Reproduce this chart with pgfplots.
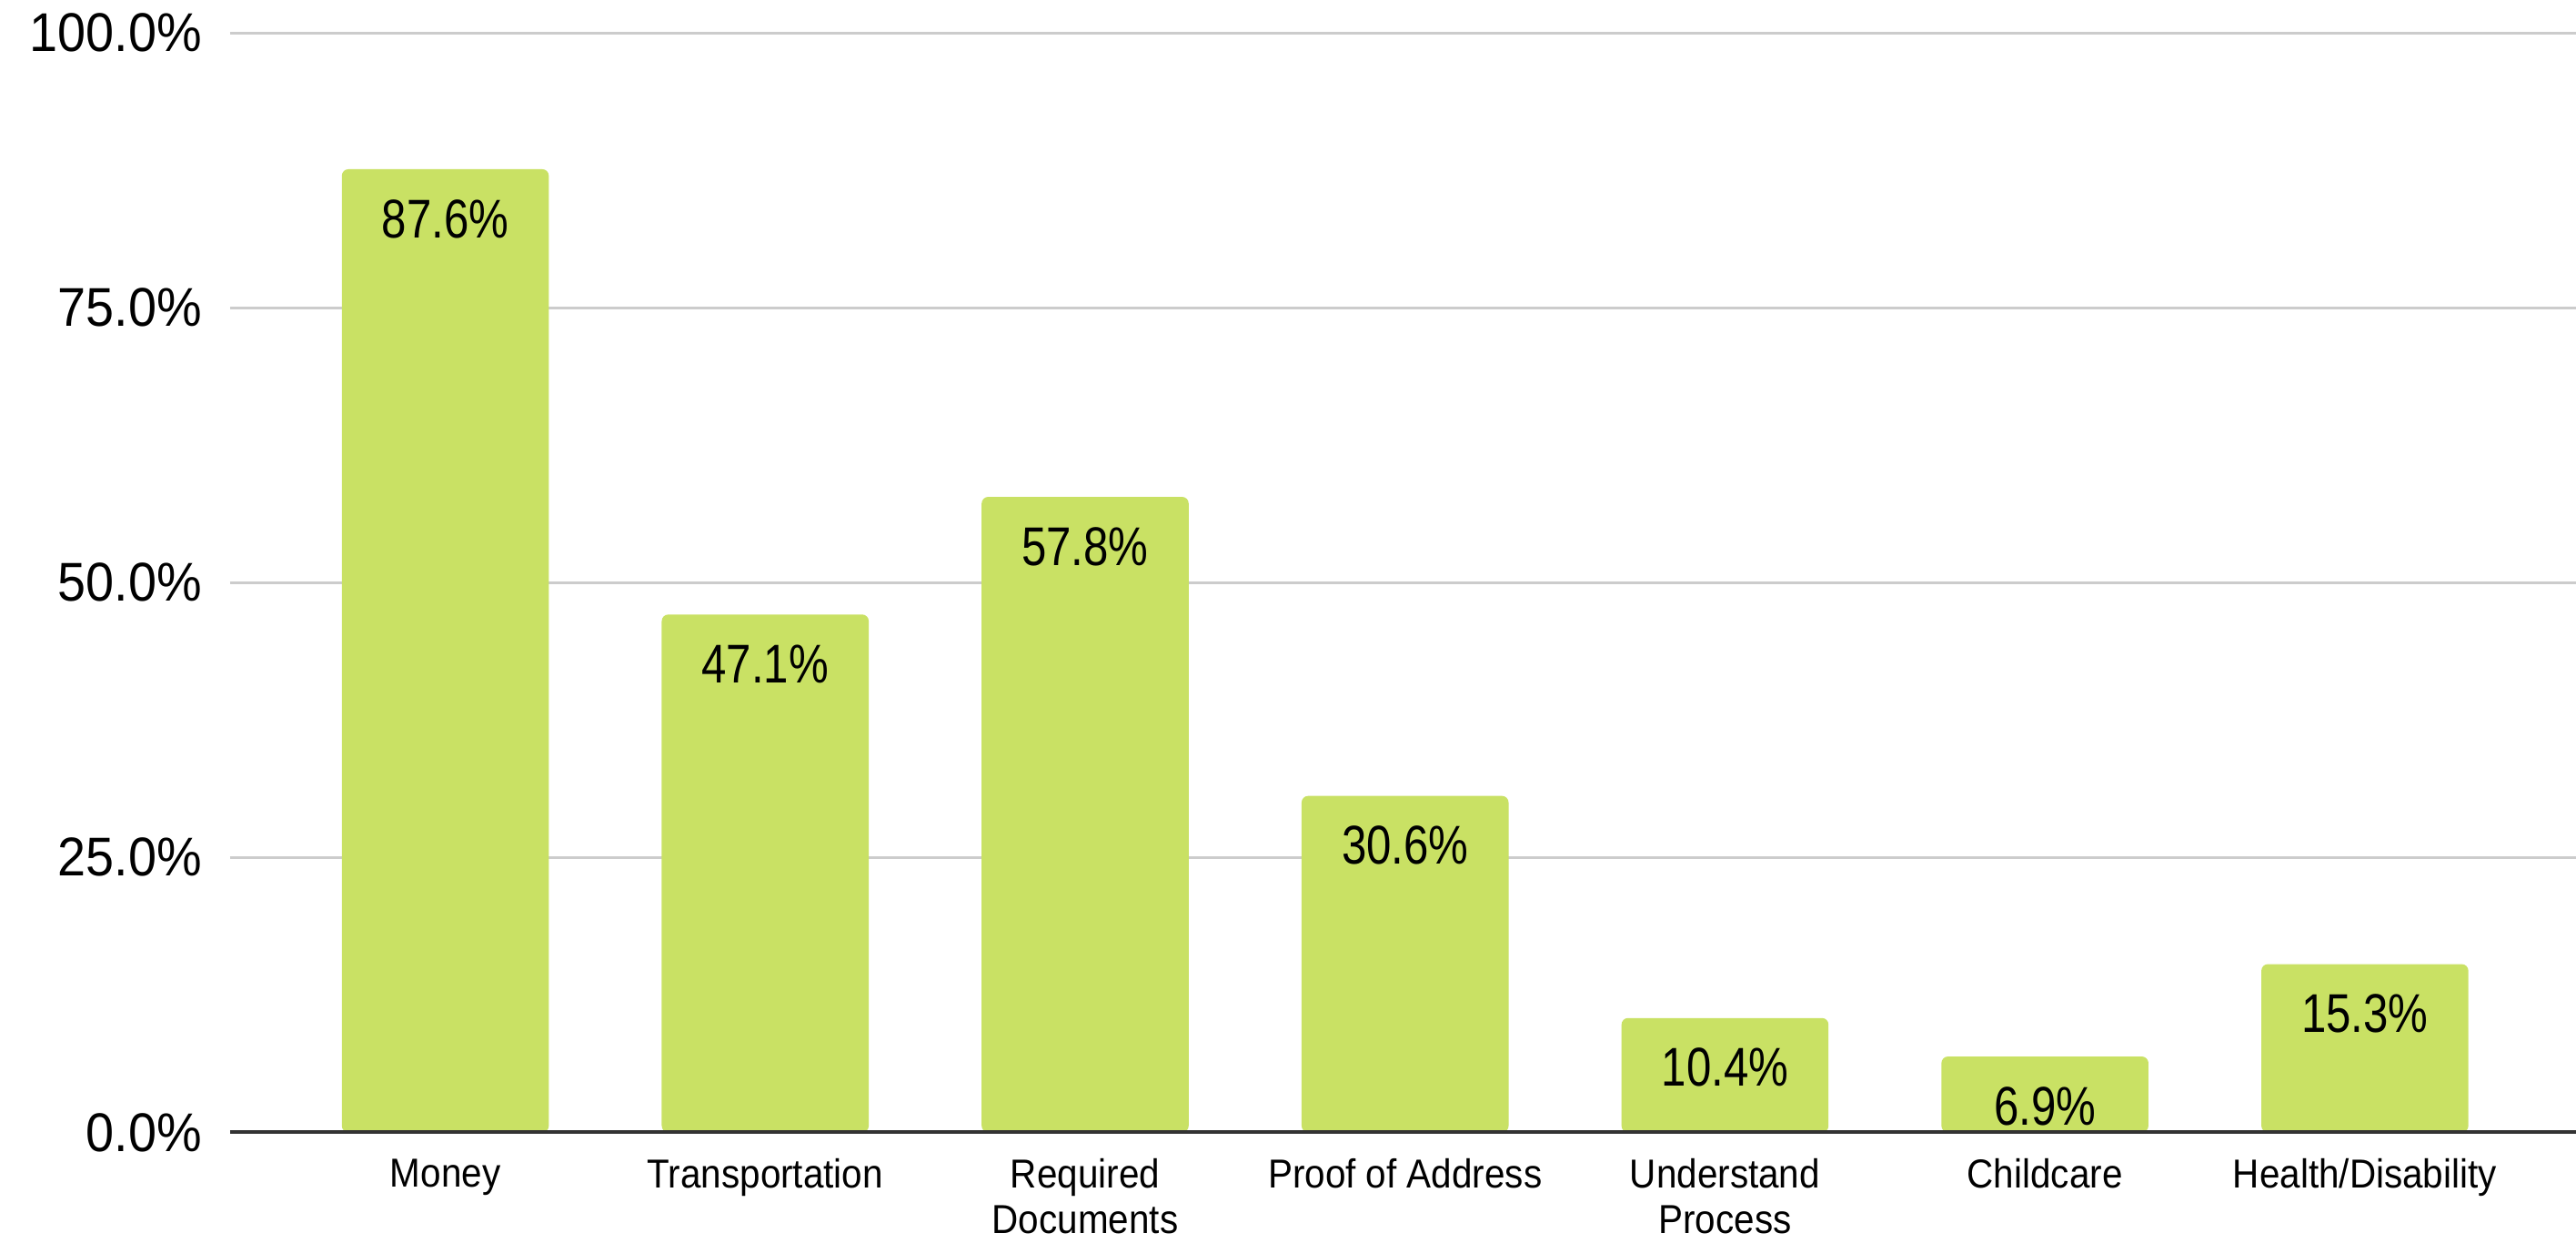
\documentclass[border=0pt]{standalone}
\usepackage{pgfplots}
\pgfplotsset{compat=1.18}
\usepackage{fontspec}
\setmainfont{Liberation Sans}
\newfontfamily\tickfont[FakeStretch=0.93]{Liberation Sans}
\newfontfamily\numfont[FakeStretch=0.82]{Liberation Sans}
\newfontfamily\catfont[FakeStretch=0.91]{Liberation Sans}
\definecolor{barc}{HTML}{C9E164}
\definecolor{gridc}{HTML}{CCCCCC}
\definecolor{basec}{HTML}{333333}
\begin{document}
\begin{tikzpicture}
\begin{axis}[
  at={(0,0)}, anchor=south west,
  scale only axis,
  width=714pt, height=334.5pt,
  xmin=-0.673, xmax=6.66,
  ymin=0, ymax=100,
  axis line style={draw=none},
  major tick length=0pt,
  ytick={0,25,50,75,100},
  yticklabel={\pgfmathprintnumber[fixed,fixed zerofill,precision=1]{\tick}\%},
  /pgf/number format/assume math mode=true,
  yticklabel style={font=\tickfont\fontsize{16.6}{19}\selectfont, xshift=-5pt},
  ymajorgrids,
  major grid style={gridc, line width=0.8pt},
  xtick={0,1,2,3,4,5,6},
  xticklabels={Money,Transportation,{Required\\Documents},{Proof of Address},{Understand\\Process},Childcare,Health/Disability},
  xticklabel style={font=\catfont\fontsize{12.3}{13.8}\selectfont, align=center, anchor=north, yshift=-4.5pt},
  ybar, bar width=63pt,
  nodes near coords={\pgfmathprintnumber[fixed,fixed zerofill,precision=1]{\pgfplotspointmeta}\%},
  every node near coord/.append style={font=\numfont\fontsize{16.6}{19}\selectfont, anchor=north, inner sep=0pt, yshift=-9pt, text=black},
  clip=false,
]
\addplot[fill=barc, draw=none, rounded corners=2pt] coordinates {
  (0,87.6) (1,47.1) (2,57.8) (3,30.6) (4,10.4) (5,6.9) (6,15.3)
};
\draw[basec, line width=1.1pt] (rel axis cs:0,0) -- (rel axis cs:1,0);
\end{axis}
\pgfresetboundingbox
\path[use as bounding box] (-70pt,-33.5pt) rectangle (714pt,344.5pt);
\end{tikzpicture}
\end{document}
